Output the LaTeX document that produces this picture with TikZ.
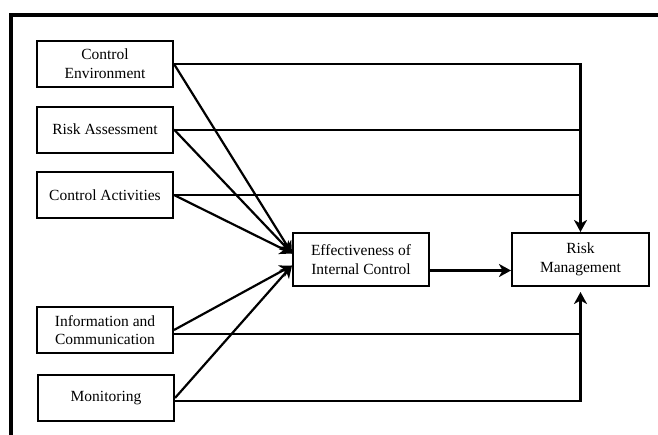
\documentclass[tikz,border=0pt]{standalone}
\usepackage{fontspec}
\setmainfont{Liberation Serif}
\usetikzlibrary{arrows.meta}
\begin{document}
\begin{tikzpicture}[x=1pt,y=-1pt,
  box/.style={draw,line width=2pt,minimum width=136pt,minimum height=46pt,inner sep=2pt,align=center,font=\fontsize{15.5}{18.7}\selectfont},
  link/.style={line width=2pt},
  arr/.style={line width=2.2pt,-{Stealth[length=12pt,width=13pt,inset=3.5pt]}}]
\useasboundingbox (0,0) rectangle (658,434);
\draw[line width=4pt] (11,436) -- (11,15) -- (660,15);
\node[box] (ce) at (105,64) {Control\\Environment};
\node[box] (ra) at (105,129.5) {Risk Assessment};
\node[box] (ca) at (105,195) {Control Activities};
\node[box] (ic) at (105,330) {Information and\\Communication};
\node[box] (mo) at (106,398) {Monitoring};
\node[box,minimum height=53pt] (eff) at (361,259.5) {Effectiveness of\\Internal Control};
\node[box,minimum height=53pt,minimum width=137pt] (rm) at (580.5,259.5) {Risk\\Management};
\draw[arr] (ce.east) -| (rm.north);
\draw[link] (ra.east) -- (ra.east -| rm.north);
\draw[link] (ca.east) -- (ca.east -| rm.north);
\draw[arr,shorten >=5pt] ([yshift=-3pt]mo.east) -| (rm.south);
\draw[link] ([yshift=-4pt]ic.east) -- ([yshift=-4pt]ic.east -| rm.south);
\foreach \src in {ce,ra,ca}
  \draw[arr] (\src.east) -- ([yshift=6pt]eff.west);
\foreach \src in {ic,mo}
  \draw[arr] (\src.east) -- ([yshift=-6pt]eff.west);
\draw[arr] ([yshift=-11pt]eff.east) -- ([yshift=-11pt]rm.west);
\end{tikzpicture}
\end{document}
